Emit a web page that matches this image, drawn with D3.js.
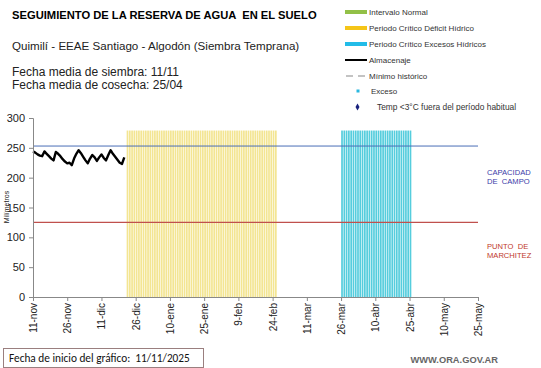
<!DOCTYPE html>
<html>
<head>
<meta charset="utf-8">
<script src="https://cdn.jsdelivr.net/npm/d3@7"></script>
<style>
  html, body { margin: 0; padding: 0; background: #fff; }
  svg { display: block; }
  svg text { white-space: pre; }
</style>
</head>
<body>
<svg id="chart" width="541" height="368"></svg>
<script>
// ---------- DATA ----------
const chartStart = "2025-11-11";
const chartEnd = "2026-05-25";
const tickDates = ["2025-11-11","2025-11-26","2025-12-11","2025-12-26","2026-01-10","2026-01-25","2026-02-09","2026-02-24","2026-03-11","2026-03-26","2026-04-10","2026-04-25","2026-05-10","2026-05-25"];
const tickLabels = ["11-nov","26-nov","11-dic","26-dic","10-ene","25-ene","9-feb","24-feb","11-mar","26-mar","10-abr","25-abr","10-may","25-may"];
const yTicks = [0, 50, 100, 150, 200, 250, 300];
// Almacenaje (mm), daily from 11-nov
const almacenaje = [244,242,239,237,236,244,240,236,232,229,243,240,236,231,227,224,225,221,232,240,246,241,235,229,224,232,238,234,228,234,239,233,229,238,246,240,235,230,225,223,234];
const capacidadCampo = 253;
const puntoMarchitez = 125;
const periodoDeficit = ["2025-12-22", "2026-02-25"];
const periodoExceso = ["2026-03-26", "2026-04-25"];
const periodoAltura = 279;

// ---------- LAYOUT ----------
const svg = d3.select("#chart");
const parse = d3.utcParse("%Y-%m-%d");
const x0 = 33, x1 = 478, yTop = 118, yBot = 297;
const x = d3.scaleUtc().domain([parse(chartStart), parse(chartEnd)]).range([x0, x1]);
const y = d3.scaleLinear().domain([0, 300]).range([yBot, yTop]);
const dayW = x(d3.utcDay.offset(parse(chartStart), 1)) - x(parse(chartStart));
const font = "Liberation Sans, Arial, sans-serif";

// ---------- PERIOD BARS ----------
function drawPeriod(range, color) {
  const days = d3.utcDay.range(parse(range[0]), d3.utcDay.offset(parse(range[1]), 1));
  svg.append("g").selectAll("rect").data(days).join("rect")
    .attr("x", d => x(d) + 0.1)
    .attr("width", dayW * 0.74)
    .attr("y", y(periodoAltura))
    .attr("height", y(0) - y(periodoAltura))
    .attr("fill", color);
}
drawPeriod(periodoDeficit, "#f3e592");
drawPeriod(periodoExceso, "#55cddd");

// ---------- REFERENCE LINES ----------
svg.append("line").attr("x1", x0).attr("x2", x1)
  .attr("y1", y(capacidadCampo)).attr("y2", y(capacidadCampo))
  .attr("stroke", "#4a6eb6").attr("stroke-width", 1);
svg.append("line").attr("x1", x0).attr("x2", x1)
  .attr("y1", y(puntoMarchitez)).attr("y2", y(puntoMarchitez))
  .attr("stroke", "#c0504d").attr("stroke-width", 1.2);

// ---------- ALMACENAJE ----------
const line = d3.line()
  .x((d, i) => x(d3.utcDay.offset(parse(chartStart), i)))
  .y(d => y(d));
svg.append("path").datum(almacenaje)
  .attr("d", line).attr("fill", "none")
  .attr("stroke", "#000").attr("stroke-width", 2.4)
  .attr("stroke-linejoin", "round");

// ---------- AXES ----------
const yAxis = svg.append("g").attr("transform", `translate(${x0},0)`)
  .call(d3.axisLeft(y).tickValues(yTicks).tickSize(4).tickPadding(4));
yAxis.select(".domain").attr("stroke", "#888");
yAxis.selectAll(".tick line").attr("stroke", "#888");
yAxis.selectAll(".tick text").attr("font-family", font).attr("font-size", 11).attr("fill", "#222");

const labelMap = new Map(tickDates.map((d, i) => [+parse(d), tickLabels[i]]));
const xAxis = svg.append("g").attr("transform", `translate(0,${yBot})`)
  .call(d3.axisBottom(x).tickValues(tickDates.map(parse)).tickSize(4).tickFormat(d => labelMap.get(+d)));
xAxis.select(".domain").attr("stroke", "#888");
xAxis.selectAll(".tick line").attr("stroke", "#888");
xAxis.selectAll(".tick text")
  .attr("font-family", font).attr("font-size", 10).attr("fill", "#222")
  .attr("transform", "rotate(-90)")
  .attr("text-anchor", "end")
  .attr("x", -6).attr("y", 0).attr("dy", "0.35em");

svg.append("text").attr("transform", "translate(9,207) rotate(-90)")
  .attr("text-anchor", "middle").attr("font-family", font).attr("font-size", 7)
  .attr("fill", "#222").text("Milímetros");

// ---------- RIGHT LABELS ----------
const rl = [["CAPACIDAD", 175, "#3b3ba8"], ["DE  CAMPO", 184, "#3b3ba8"], ["PUNTO  DE", 249, "#c0392b"], ["MARCHITEZ", 258, "#c0392b"]];
svg.append("g").selectAll("text").data(rl).join("text")
  .attr("x", 487).attr("y", d => d[1]).attr("font-family", font).attr("font-size", 7.6)
  .attr("fill", d => d[2]).text(d => d[0]);

// ---------- TITLES ----------
svg.append("text").attr("x", 12).attr("y", 19).attr("font-family", font)
  .attr("font-size", 11.2).attr("font-weight", "bold").attr("fill", "#000")
  .text("SEGUIMIENTO DE LA RESERVA DE AGUA  EN EL SUELO");
svg.append("text").attr("x", 12).attr("y", 50).attr("font-family", font)
  .attr("font-size", 11.6).attr("fill", "#222")
  .text("Quimilí - EEAE Santiago - Algodón (Siembra Temprana)");
svg.append("text").attr("x", 12).attr("y", 76).attr("font-family", font)
  .attr("font-size", 12).attr("fill", "#222").text("Fecha media de siembra: 11/11");
svg.append("text").attr("x", 12).attr("y", 89).attr("font-family", font)
  .attr("font-size", 12).attr("fill", "#222").text("Fecha media de cosecha: 25/04");

// ---------- LEGEND ----------
const legendItems = [
  {label: "Intervalo Normal", type: "rect", color: "#92c047", y: 12, tx: 369},
  {label: "Periodo Crítico Déficit Hídrico", type: "rect", color: "#f5c518", y: 28, tx: 369},
  {label: "Periodo Crítico Excesos Hídricos", type: "rect", color: "#22bce8", y: 44, tx: 369},
  {label: "Almacenaje", type: "line", color: "#000", y: 60, tx: 369},
  {label: "Mínimo histórico", type: "dash", color: "#888", y: 76, tx: 369},
  {label: "Exceso", type: "square", color: "#2ab8e0", y: 91, tx: 371},
  {label: "Temp <3°C fuera del período habitual", type: "diamond", color: "#1a237e", y: 107, tx: 377}
];
const lg = svg.append("g");
legendItems.forEach(it => {
  if (it.type === "rect") {
    lg.append("rect").attr("x", 345).attr("y", it.y - 2).attr("width", 22).attr("height", 4).attr("fill", it.color);
  } else if (it.type === "line") {
    lg.append("line").attr("x1", 345).attr("x2", 367).attr("y1", it.y).attr("y2", it.y)
      .attr("stroke", it.color).attr("stroke-width", 2);
  } else if (it.type === "dash") {
    lg.append("line").attr("x1", 346).attr("x2", 367).attr("y1", it.y).attr("y2", it.y)
      .attr("stroke", it.color).attr("stroke-width", 1.2).attr("stroke-dasharray", "7,5");
  } else if (it.type === "square") {
    lg.append("rect").attr("x", 356.5).attr("y", it.y - 1.5).attr("width", 3).attr("height", 3).attr("fill", it.color);
  } else if (it.type === "diamond") {
    lg.append("path").attr("d", d3.symbol(d3.symbolDiamond, 14)()).attr("transform", `translate(357.5,${it.y})`).attr("fill", it.color);
  }
  lg.append("text").attr("x", it.tx)
    .attr("y", it.y).attr("dy", "0.35em").attr("font-family", font)
    .attr("font-size", it.type === "diamond" ? 8.4 : 8)
    .attr("fill", "#333").text(it.label);
});

// ---------- FOOTER ----------
svg.append("rect").attr("x", 3.5).attr("y", 348.5).attr("width", 200).attr("height", 19)
  .attr("fill", "#fff").attr("stroke", "#9a7f7f").attr("stroke-width", 1);
svg.append("text").attr("x", 9).attr("y", 362).attr("font-family", "Carlito, Calibri, Liberation Sans, sans-serif")
  .attr("font-size", 11.3).attr("fill", "#111").text("Fecha de inicio del gráfico:  11/11/2025");
svg.append("text").attr("x", 498).attr("y", 363).attr("text-anchor", "end").attr("font-family", font)
  .attr("font-size", 9.3).attr("font-weight", "bold").attr("fill", "#666").text("WWW.ORA.GOV.AR");
</script>
</body>
</html>
